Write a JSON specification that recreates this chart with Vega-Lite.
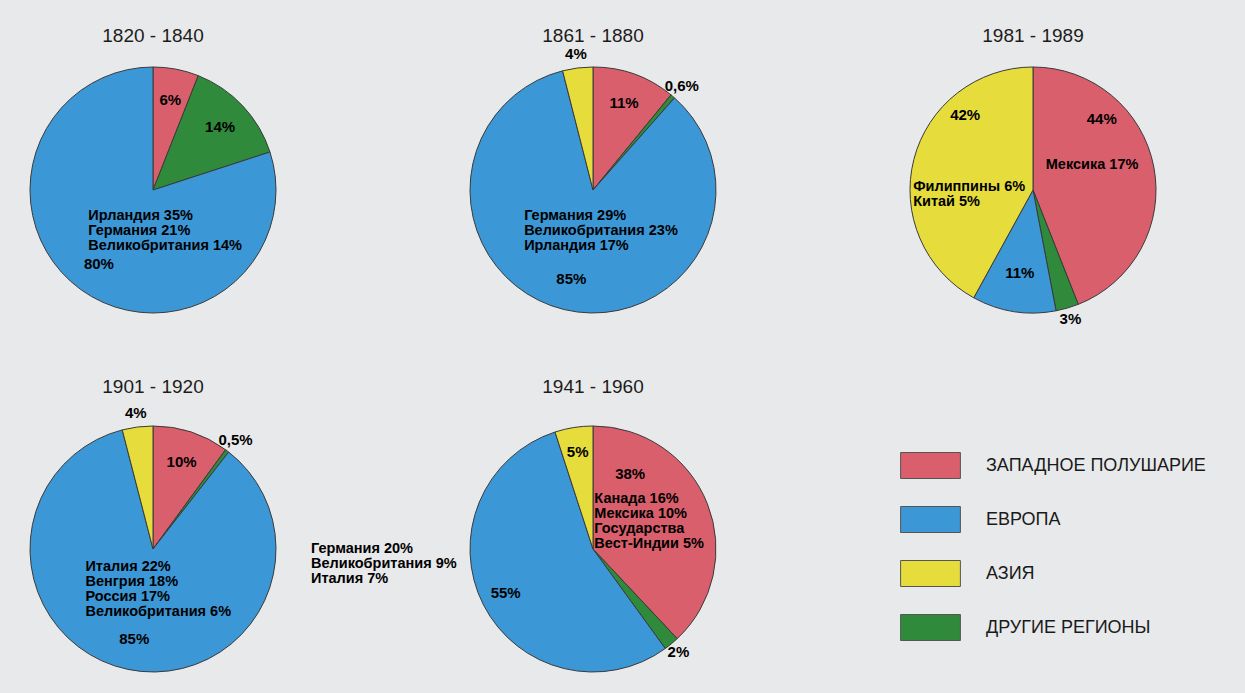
{
  "$schema": "https://vega.github.io/schema/vega-lite/v6.json",
  "background": "#e8e9ea",
  "padding": {"left": 3, "top": 27, "right": 60, "bottom": 30},
  "bounds": "flush",
  "datasets": {
    "slices": [
      {"period": "1820 - 1840", "region": "ЗАПАДНОЕ ПОЛУШАРИЕ", "ord": 1, "value": 6, "label": "6%", "note": ""},
      {"period": "1820 - 1840", "region": "ДРУГИЕ РЕГИОНЫ", "ord": 2, "value": 14, "label": "14%", "note": ""},
      {"period": "1820 - 1840", "region": "ЕВРОПА", "ord": 3, "value": 80, "label": "80%", "note": ["Ирландия 35%", "Германия 21%", "Великобритания 14%"]},
      {"period": "1861 - 1880", "region": "ЗАПАДНОЕ ПОЛУШАРИЕ", "ord": 1, "value": 11, "label": "11%", "note": ""},
      {"period": "1861 - 1880", "region": "ДРУГИЕ РЕГИОНЫ", "ord": 2, "value": 0.6, "label": "0,6%", "note": ""},
      {"period": "1861 - 1880", "region": "ЕВРОПА", "ord": 3, "value": 85, "label": "85%", "note": ["Германия 29%", "Великобритания 23%", "Ирландия 17%"]},
      {"period": "1861 - 1880", "region": "АЗИЯ", "ord": 4, "value": 4, "label": "4%", "note": ""},
      {"period": "1981 - 1989", "region": "ЗАПАДНОЕ ПОЛУШАРИЕ", "ord": 1, "value": 44, "label": "44%", "note": ["Мексика 17%"]},
      {"period": "1981 - 1989", "region": "ДРУГИЕ РЕГИОНЫ", "ord": 2, "value": 3, "label": "3%", "note": ""},
      {"period": "1981 - 1989", "region": "ЕВРОПА", "ord": 3, "value": 11, "label": "11%", "note": ""},
      {"period": "1981 - 1989", "region": "АЗИЯ", "ord": 4, "value": 42, "label": "42%", "note": ["Филиппины 6%", "Китай 5%"]},
      {"period": "1901 - 1920", "region": "ЗАПАДНОЕ ПОЛУШАРИЕ", "ord": 1, "value": 10, "label": "10%", "note": ""},
      {"period": "1901 - 1920", "region": "ДРУГИЕ РЕГИОНЫ", "ord": 2, "value": 0.5, "label": "0,5%", "note": ""},
      {"period": "1901 - 1920", "region": "ЕВРОПА", "ord": 3, "value": 85, "label": "85%", "note": ["Италия 22%", "Венгрия 18%", "Россия 17%", "Великобритания 6%"]},
      {"period": "1901 - 1920", "region": "АЗИЯ", "ord": 4, "value": 4, "label": "4%", "note": ""},
      {"period": "1941 - 1960", "region": "ЗАПАДНОЕ ПОЛУШАРИЕ", "ord": 1, "value": 38, "label": "38%", "note": ["Канада 16%", "Мексика 10%", "Государства", "Вест-Индии 5%"]},
      {"period": "1941 - 1960", "region": "ДРУГИЕ РЕГИОНЫ", "ord": 2, "value": 2, "label": "2%", "note": ""},
      {"period": "1941 - 1960", "region": "ЕВРОПА", "ord": 3, "value": 55, "label": "55%", "note": ["Германия 20%", "Великобритания 9%", "Италия 7%"]},
      {"period": "1941 - 1960", "region": "АЗИЯ", "ord": 4, "value": 5, "label": "5%", "note": ""}
    ]
  },
  "columns": 3,
  "spacing": {"row": 59, "column": 140},
  "concat": [
    {
      "title": {"text": "1820 - 1840", "offset": -6, "frame": "group"},
      "width": 300, "height": 300,
      "data": {"name": "slices"},
      "transform": [{"filter": {"field": "period", "equal": "1820 - 1840"}}],
      "encoding": {
        "theta": {"field": "value", "type": "quantitative", "stack": "normalize"},
        "order": {"field": "ord", "type": "quantitative"},
        "detail": {"field": "region", "type": "nominal"}
      },
      "layer": [
        {"mark": {"type": "arc", "outerRadius": 123, "stroke": "#3a3a3a", "strokeWidth": 1},
         "encoding": {"color": {"field": "region", "type": "nominal", "scale": {"domain": ["ЗАПАДНОЕ ПОЛУШАРИЕ", "ЕВРОПА", "АЗИЯ", "ДРУГИЕ РЕГИОНЫ"], "range": ["#d95f6c", "#3b97d6", "#e6dc3c", "#2f8b3b"]}, "legend": {"title": null, "orient": "none", "legendX": 914, "legendY": 412}}}},
        {"mark": {"type": "text", "style": "pct", "radius": 92},
         "encoding": {"text": {"field": "label", "type": "nominal"}}},
        {"mark": {"type": "text", "style": "note", "radius": 42, "dx": -40, "dy": -8},
         "encoding": {"text": {"field": "note", "type": "nominal"}}}
      ]
    },
    {
      "title": {"text": "1861 - 1880", "offset": -6, "frame": "group"},
      "width": 300, "height": 300,
      "data": {"name": "slices"},
      "transform": [{"filter": {"field": "period", "equal": "1861 - 1880"}}],
      "encoding": {
        "theta": {"field": "value", "type": "quantitative", "stack": "normalize"},
        "order": {"field": "ord", "type": "quantitative"},
        "detail": {"field": "region", "type": "nominal"}
      },
      "layer": [
        {"mark": {"type": "arc", "outerRadius": 123, "stroke": "#3a3a3a", "strokeWidth": 1},
         "encoding": {"color": {"field": "region", "type": "nominal", "scale": {"domain": ["ЗАПАДНОЕ ПОЛУШАРИЕ", "ЕВРОПА", "АЗИЯ", "ДРУГИЕ РЕГИОНЫ"], "range": ["#d95f6c", "#3b97d6", "#e6dc3c", "#2f8b3b"]}, "legend": {"title": null, "orient": "none", "legendX": 914, "legendY": 412}}}},
        {"mark": {"type": "text", "style": "pct", "radius": 92},
         "encoding": {"text": {"condition": {"test": "datum.value >= 5", "field": "label", "type": "nominal"}, "value": ""}}},
        {"mark": {"type": "text", "style": "pct", "radius": 137},
         "encoding": {"text": {"condition": {"test": "datum.value < 5", "field": "label", "type": "nominal"}, "value": ""}}},
        {"mark": {"type": "text", "style": "note", "radius": 42, "dx": -59, "dy": -15},
         "encoding": {"text": {"field": "note", "type": "nominal"}}}
      ]
    },
    {
      "title": {"text": "1981 - 1989", "offset": -6, "frame": "group"},
      "width": 300, "height": 300,
      "data": {"name": "slices"},
      "transform": [{"filter": {"field": "period", "equal": "1981 - 1989"}}],
      "encoding": {
        "theta": {"field": "value", "type": "quantitative", "stack": "normalize"},
        "order": {"field": "ord", "type": "quantitative"},
        "detail": {"field": "region", "type": "nominal"}
      },
      "layer": [
        {"mark": {"type": "arc", "outerRadius": 123, "stroke": "#3a3a3a", "strokeWidth": 1},
         "encoding": {"color": {"field": "region", "type": "nominal", "scale": {"domain": ["ЗАПАДНОЕ ПОЛУШАРИЕ", "ЕВРОПА", "АЗИЯ", "ДРУГИЕ РЕГИОНЫ"], "range": ["#d95f6c", "#3b97d6", "#e6dc3c", "#2f8b3b"]}, "legend": {"title": null, "orient": "none", "legendX": 914, "legendY": 412}}}},
        {"mark": {"type": "text", "style": "pct", "radius": 84},
         "encoding": {"text": {"condition": {"test": "datum.region === 'ЕВРОПА'", "field": "label", "type": "nominal"}, "value": ""}}},
        {"mark": {"type": "text", "style": "pct", "radius": 70, "dy": -58},
         "encoding": {"text": {"condition": {"test": "isArray(datum.note)", "field": "label", "type": "nominal"}, "value": ""}}},
        {"mark": {"type": "text", "style": "pct", "radius": 134},
         "encoding": {"text": {"condition": {"test": "datum.value < 5", "field": "label", "type": "nominal"}, "value": ""}}},
        {"mark": {"type": "text", "style": "note", "radius": 68, "dx": -54, "dy": -12},
         "encoding": {"text": {"condition": {"test": "datum.region === 'ЗАПАДНОЕ ПОЛУШАРИЕ'", "field": "note", "type": "nominal"}, "value": ""}}},
        {"mark": {"type": "text", "style": "note", "radius": 68, "dx": -54, "dy": 14},
         "encoding": {"text": {"condition": {"test": "datum.region === 'АЗИЯ'", "field": "note", "type": "nominal"}, "value": ""}}}
      ]
    },
    {
      "title": {"text": "1901 - 1920", "offset": 2, "frame": "group"},
      "width": 300, "height": 300,
      "data": {"name": "slices"},
      "transform": [{"filter": {"field": "period", "equal": "1901 - 1920"}}],
      "encoding": {
        "theta": {"field": "value", "type": "quantitative", "stack": "normalize"},
        "order": {"field": "ord", "type": "quantitative"},
        "detail": {"field": "region", "type": "nominal"}
      },
      "layer": [
        {"mark": {"type": "arc", "outerRadius": 123, "stroke": "#3a3a3a", "strokeWidth": 1},
         "encoding": {"color": {"field": "region", "type": "nominal", "scale": {"domain": ["ЗАПАДНОЕ ПОЛУШАРИЕ", "ЕВРОПА", "АЗИЯ", "ДРУГИЕ РЕГИОНЫ"], "range": ["#d95f6c", "#3b97d6", "#e6dc3c", "#2f8b3b"]}, "legend": {"title": null, "orient": "none", "legendX": 914, "legendY": 412}}}},
        {"mark": {"type": "text", "style": "pct", "radius": 92},
         "encoding": {"text": {"condition": {"test": "datum.value >= 5", "field": "label", "type": "nominal"}, "value": ""}}},
        {"mark": {"type": "text", "style": "pct", "radius": 137},
         "encoding": {"text": {"condition": {"test": "datum.value < 5", "field": "label", "type": "nominal"}, "value": ""}}},
        {"mark": {"type": "text", "style": "note", "radius": 42, "dx": -59, "dy": -23},
         "encoding": {"text": {"field": "note", "type": "nominal"}}}
      ]
    },
    {
      "title": {"text": "1941 - 1960", "offset": 2, "frame": "group"},
      "width": 300, "height": 300,
      "data": {"name": "slices"},
      "transform": [{"filter": {"field": "period", "equal": "1941 - 1960"}}],
      "encoding": {
        "theta": {"field": "value", "type": "quantitative", "stack": "normalize"},
        "order": {"field": "ord", "type": "quantitative"},
        "detail": {"field": "region", "type": "nominal"}
      },
      "layer": [
        {"mark": {"type": "arc", "outerRadius": 123, "stroke": "#3a3a3a", "strokeWidth": 1},
         "encoding": {"color": {"field": "region", "type": "nominal", "scale": {"domain": ["ЗАПАДНОЕ ПОЛУШАРИЕ", "ЕВРОПА", "АЗИЯ", "ДРУГИЕ РЕГИОНЫ"], "range": ["#d95f6c", "#3b97d6", "#e6dc3c", "#2f8b3b"]}, "legend": {"title": null, "orient": "none", "legendX": 914, "legendY": 412}}}},
        {"mark": {"type": "text", "style": "pct", "radius": 98},
         "encoding": {"text": {"condition": {"test": "datum.region === 'ЕВРОПА' || datum.region === 'АЗИЯ'", "field": "label", "type": "nominal"}, "value": ""}}},
        {"mark": {"type": "text", "style": "pct", "radius": 40, "dy": -60},
         "encoding": {"text": {"condition": {"test": "datum.region === 'ЗАПАДНОЕ ПОЛУШАРИЕ'", "field": "label", "type": "nominal"}, "value": ""}}},
        {"mark": {"type": "text", "style": "pct", "radius": 134},
         "encoding": {"text": {"condition": {"test": "datum.value < 5", "field": "label", "type": "nominal"}, "value": ""}}},
        {"mark": {"type": "text", "style": "note", "radius": 66, "dx": -60, "dy": -26},
         "encoding": {"text": {"condition": {"test": "datum.region === 'ЗАПАДНОЕ ПОЛУШАРИЕ'", "field": "note", "type": "nominal"}, "value": ""}}},
        {"mark": {"type": "text", "style": "note", "radius": 0, "dx": -282, "dy": 0},
         "encoding": {"text": {"condition": {"test": "datum.region === 'ЕВРОПА'", "field": "note", "type": "nominal"}, "value": ""}}}
      ]
    }
  ],
  "config": {
    "view": {"stroke": null},
    "font": "Liberation Sans",
    "title": {"font": "Liberation Sans", "fontSize": 19, "fontWeight": "normal", "color": "#1c1c1c", "anchor": "middle", "baseline": "alphabetic"},
    "style": {
      "pct": {"font": "Liberation Sans", "fontSize": 15, "fontWeight": "bold", "fill": "#20222e", "align": "center", "baseline": "middle"},
      "note": {"font": "Liberation Sans", "fontSize": 14.5, "fontWeight": "bold", "fill": "#20222e", "align": "left", "baseline": "middle", "lineHeight": 15}
    },
    "legend": {
      "padding": 0,
      "symbolType": "M-2.3,-1L2.3,-1L2.3,1L-2.3,1Z",
      "symbolSize": 676,
      "symbolStrokeColor": "#555555",
      "symbolStrokeWidth": 1,
      "symbolOpacity": 1,
      "labelFont": "Liberation Sans",
      "labelFontSize": 18,
      "labelColor": "#1a1a1a",
      "labelOffset": 42,
      "labelLimit": 400,
      "rowPadding": 23
    }
  }
}
